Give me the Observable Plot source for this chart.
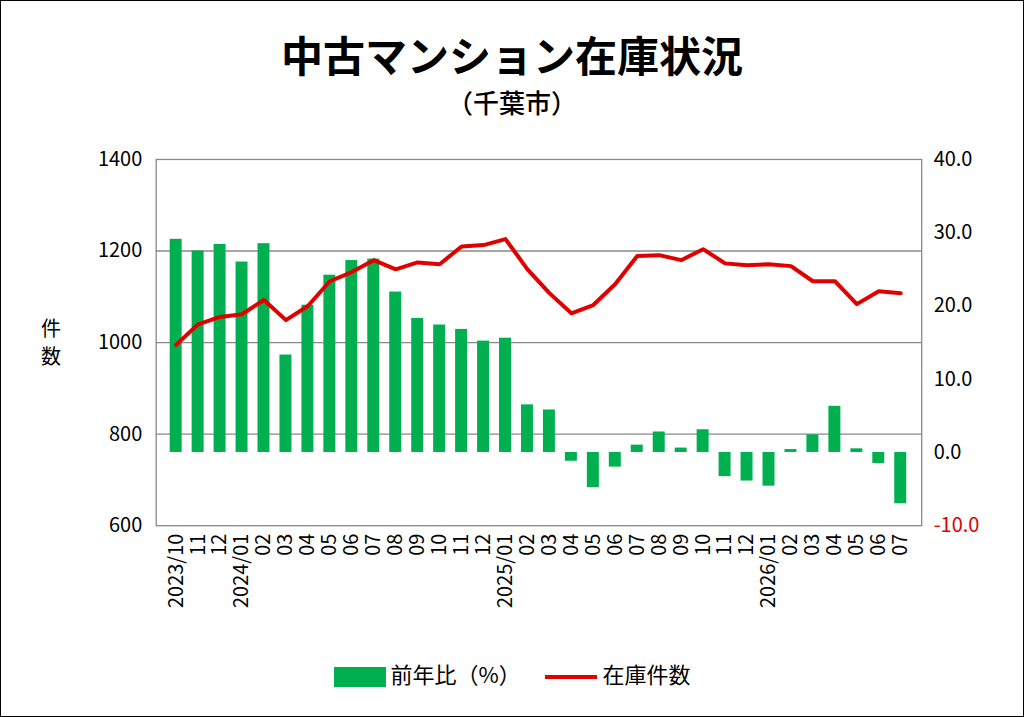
<!DOCTYPE html>
<html><head><meta charset="utf-8">
<script src="https://cdn.jsdelivr.net/npm/d3@7"></script>
<script src="https://cdn.jsdelivr.net/npm/@observablehq/plot@0.6"></script>
<style>
body{margin:0;background:#fff;font-family:"Noto Sans CJK JP",sans-serif;}
#wrap{position:relative;width:1022px;height:715px;border:1px solid #000;overflow:hidden}
#title{position:absolute;top:22px;width:100%;text-align:center;font-size:42px;font-weight:bold}
#sub{position:absolute;top:82px;width:100%;text-align:center;font-size:26px;font-weight:500}
.yl{position:absolute;left:40px;font-size:20px;width:24px}
#chart{position:absolute;top:130px;left:0}
#legend{position:absolute;top:656px;width:100%;text-align:center;font-size:22px}
.sw{display:inline-block;vertical-align:middle}
</style></head><body>
<div id="wrap">
<div id="title">中古マンション在庫状況</div>
<div id="sub">（千葉市）</div>
<div class="yl" style="top:312px">件</div>
<div class="yl" style="top:340px">数</div>
<div id="chart"></div>
<div id="legend"><span class="sw" style="width:52px;height:20px;background:#00B050"></span> 前年比（%） &nbsp;&nbsp;&nbsp;&nbsp;<span class="sw" style="width:52px;height:4px;background:#E00000"></span> 在庫件数</div>
</div>
<script>
const labels=["2023/10","11","12","2024/01","02","03","04","05","06","07","08","09","10","11","12","2025/01","02","03","04","05","06","07","08","09","10","11","12","2026/01","02","03","04","05","06","07"];
const yoy=[29.1,27.5,28.4,26.0,28.5,13.3,20.1,24.2,26.2,26.4,21.9,18.3,17.4,16.8,15.2,15.6,6.5,5.8,-1.2,-4.8,-2.0,1.0,2.8,0.6,3.1,-3.3,-3.9,-4.6,0.4,2.4,6.3,0.5,-1.5,-7.0];
const stock=[995,1040,1056,1062,1093,1049,1080,1134,1154,1180,1160,1175,1171,1210,1213,1226,1160,1108,1064,1082,1128,1189,1191,1180,1204,1173,1169,1171,1167,1134,1134,1084,1112,1108];
const toLeft=v=>600+(v+10)*16;
const data=labels.map((l,i)=>({i,yoy:yoy[i],stock:stock[i]}));
const idx=d3.range(labels.length);
const chart=Plot.plot({
 width:1024,height:520,marginTop:28,marginBottom:125,marginLeft:155,marginRight:102,
 style:{fontSize:"20px",fontFamily:"Noto Sans CJK JP, sans-serif",color:"#000"},
 x:{type:"band",domain:idx,paddingInner:0.45,paddingOuter:0,align:0.5,label:null},
 y:{domain:[600,1400],label:null},
 marks:[
  Plot.ruleY([800,1000,1200],{stroke:"#888",strokeWidth:1.3}),
  Plot.barY(data,{x:"i",y1:()=>760,y2:d=>toLeft(d.yoy),fill:"#00B050"}),
  Plot.line(data,{x:"i",y:"stock",stroke:"#E00000",strokeWidth:4}),
  Plot.frame({stroke:"#888",strokeWidth:1.3}),
  Plot.axisX({tickFormat:i=>labels[i],tickRotate:-90,tickSize:0,fontSize:20,tickPadding:8,label:null}),
  Plot.axisY({ticks:[600,800,1000,1200,1400],tickFormat:d=>String(d),tickSize:0,tickPadding:14,fontSize:20,label:null}),
  Plot.axisY({anchor:"right",ticks:[600,760,920,1080,1240,1400],tickSize:0,tickPadding:12,fontSize:20,label:null,
   tickFormat:v=>((v-600)/16-10).toFixed(1)})
 ]
});
d3.select(chart).selectAll("text").filter(function(){return this.textContent=="-10.0"}).attr("fill","#E00000");
document.getElementById("chart").appendChild(chart);
</script></body></html>
